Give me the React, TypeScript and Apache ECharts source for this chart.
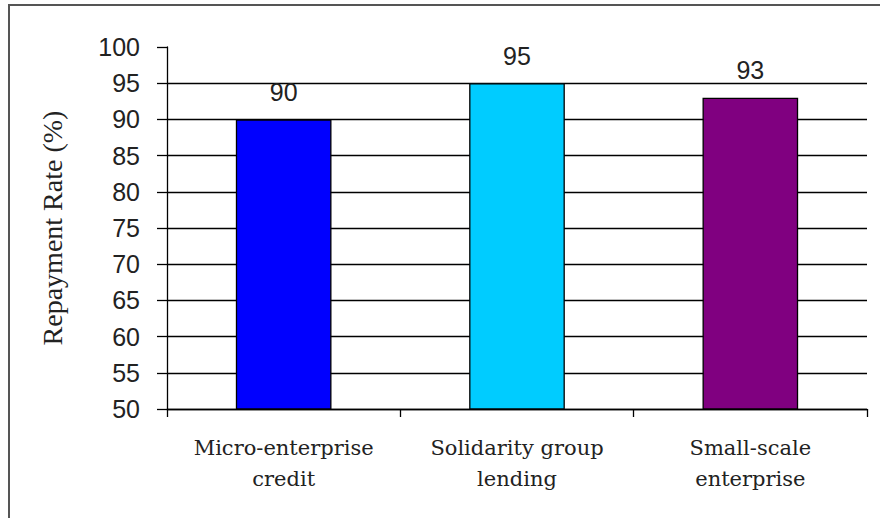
import React, { useEffect, useRef } from "react";
import * as echarts from "echarts";

const categories = ["Micro-enterprise\ncredit", "Solidarity group\nlending", "Small-scale\nenterprise"];
const repaymentRates = [90, 95, 93];
const barColors = ["#0000FF", "#00CCFF", "#800080"];
const yMin = 50;
const yMax = 100;
const yStep = 5;
const yAxisTitle = "Repayment Rate (%)";

export default function App() {
  const ref = useRef<HTMLDivElement>(null);
  useEffect(() => {
    if (!ref.current) return;
    const chart = echarts.init(ref.current, null, { renderer: "svg" });
    chart.setOption({
      animation: false,
      backgroundColor: "#ffffff",
      graphic: [
        {
          type: "rect",
          shape: { x: 9, y: 5, width: 900, height: 600 },
          style: { fill: "none", stroke: "#555555", lineWidth: 2 },
          silent: true,
        },
      ],
      grid: { left: 167, right: 13, top: 47, bottom: 109, containLabel: false },
      xAxis: {
        type: "category",
        data: categories,
        axisLine: { show: true, lineStyle: { color: "#000", width: 1.3 } },
        axisTick: { show: true, inside: false, length: 8, alignWithLabel: false, lineStyle: { color: "#000", width: 1.3 } },
        axisLabel: {
          interval: 0,
          margin: 23,
          fontFamily: "DejaVu Serif",
          fontSize: 21,
          lineHeight: 31,
          color: "#222",
        },
        splitLine: { show: false },
      },
      yAxis: {
        type: "value",
        min: yMin,
        max: yMax,
        interval: yStep,
        name: yAxisTitle,
        nameLocation: "middle",
        nameGap: 101,
        nameTextStyle: { fontFamily: "Liberation Serif", fontSize: 28, color: "#222" },
        axisLine: { show: true, lineStyle: { color: "#000", width: 1.3 } },
        axisTick: { show: true, inside: false, length: 10, lineStyle: { color: "#000", width: 1.3 } },
        axisLabel: {
          margin: 27,
          fontFamily: "Liberation Sans",
          fontSize: 25,
          color: "#222",
        },
        splitLine: { show: true, showMaxLine: false, lineStyle: { color: "#000", width: 1.3 } },
      },
      series: [
        {
          type: "bar",
          data: repaymentRates.map((v, i) => ({ value: v, itemStyle: { color: barColors[i] } })),
          barWidth: "41%",
          itemStyle: { borderColor: "#000", borderWidth: 1.3 },
          label: {
            show: true,
            position: "top",
            distance: 15,
            fontFamily: "Liberation Sans",
            fontSize: 25,
            color: "#222",
          },
        },
      ],
    });
    return () => chart.dispose();
  }, []);
  return (
    <div
      ref={ref}
      style={{ position: "fixed", left: 0, top: 0, width: 880, height: 518, background: "#fff" }}
    />
  );
}
